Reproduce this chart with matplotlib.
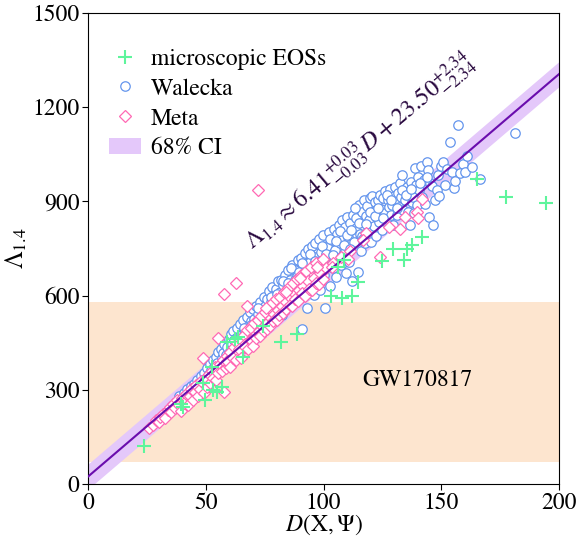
import matplotlib
matplotlib.use("Agg")
import matplotlib.pyplot as plt
import numpy as np
from matplotlib.patches import Patch
from matplotlib.lines import Line2D

plt.rcParams['font.family'] = ['STIXGeneral', 'DejaVu Serif']
plt.rcParams['mathtext.fontset'] = 'stix'

# ---------------- data ----------------
micro_D = [23.8, 39.5, 40.5, 49.7, 48.8, 52.7, 53.0, 54.8, 57.0, 59.0, 62.4, 63.5, 65.8,
           74.5, 82.0, 88.7, 103.2, 108.0, 112.0, 114.8, 106.0, 108.5, 125.0, 129.6,
           134.0, 135.4, 137.6, 141.8, 165.0, 177.5, 194.5]
micro_L = [121, 255, 245, 268, 322, 374, 300, 293, 309, 452, 462, 468, 405,
           502, 452, 478, 598, 592, 598, 642, 692, 712, 710, 750,
           712, 748, 762, 786, 972, 915, 895]

walecka_pts = [
    (37.2, 262), (38.6, 281), (39.4, 266), (40.8, 289), (41.3, 272), (42.1, 301), (42.9, 286), (43.6, 312),
    (44.2, 296), (45.1, 318), (45.7, 303), (46.3, 331), (47.2, 322), (47.8, 344), (48.4, 329), (49.3, 352),
    (49.9, 338),
    (50.6, 368), (51.2, 349), (51.9, 381), (52.4, 362), (53.1, 395), (53.7, 371), (54.3, 404), (54.9, 386),
    (55.4, 420), (55.8, 377), (56.3, 431), (56.9, 402), (57.4, 418), (57.9, 446), (58.6, 411), (59.2, 437),
    (59.7, 461), (60.1, 422),
    (60.7, 478), (61.2, 445), (61.6, 488), (62.3, 430), (62.8, 466), (63.4, 497), (63.9, 452), (64.5, 509),
    (64.8, 474), (65.3, 441), (65.9, 521), (66.4, 489), (66.8, 462), (67.3, 532), (67.9, 503), (68.4, 478),
    (68.9, 548), (69.3, 519), (69.8, 497), (70.2, 556),
    (70.6, 527), (71.1, 489), (71.5, 566), (72.0, 541), (72.6, 508), (73.1, 579), (73.6, 553), (74.2, 522),
    (74.7, 596), (75.1, 568), (75.6, 497), (76.1, 588), (76.5, 547), (77.0, 614), (77.4, 533), (77.9, 579),
    (78.3, 628), (78.8, 603), (79.2, 556), (79.7, 621), (80.0, 586),
    (80.5, 645), (80.9, 571), (81.4, 612), (81.9, 650), (82.3, 537), (82.8, 633), (83.2, 594), (83.7, 667),
    (84.1, 559), (84.6, 619), (85.0, 683), (85.5, 604), (85.9, 651), (86.4, 572), (86.8, 698), (87.3, 629),
    (87.7, 681), (88.2, 611), (88.6, 664), (89.1, 713), (89.6, 588), (90.0, 642),
    (90.4, 721), (90.8, 493), (91.2, 663), (91.6, 598), (92.1, 735), (92.5, 689), (92.9, 561), (93.4, 747),
    (93.8, 672), (94.2, 706), (94.7, 628), (95.1, 758), (95.6, 694), (96.0, 601), (96.4, 769), (96.9, 724),
    (97.3, 652), (97.7, 703), (98.2, 781), (98.6, 618), (99.1, 738), (99.5, 684), (99.9, 792),
    (100.4, 667), (100.8, 561), (101.3, 757), (101.7, 711), (102.2, 803), (102.6, 632), (103.0, 728),
    (103.5, 776), (103.9, 689), (104.4, 812), (104.8, 745), (105.2, 659), (105.7, 796), (106.1, 718),
    (106.5, 826), (107.0, 766), (107.4, 698), (107.8, 842), (108.3, 781), (108.7, 737), (109.2, 817),
    (109.6, 672), (110.0, 851),
    (110.5, 787), (110.9, 706), (111.4, 832), (111.8, 764), (112.2, 646), (112.7, 858), (113.1, 771),
    (113.6, 815), (114.0, 847), (114.6, 675), (114.9, 889), (115.3, 797), (115.8, 742), (116.2, 866),
    (116.7, 826), (117.1, 903), (117.5, 768), (118.0, 853), (118.4, 884), (118.9, 806), (119.3, 842),
    (119.7, 912), (120.2, 771),
    (120.6, 917), (121.0, 866), (121.5, 823), (121.9, 897), (122.4, 789), (122.8, 852), (123.3, 904),
    (123.7, 836), (124.1, 921), (124.6, 877), (125.0, 808), (125.4, 911), (125.9, 864), (126.3, 934),
    (126.8, 843), (127.2, 904), (127.6, 882), (128.1, 941), (128.5, 858), (129.0, 889), (129.4, 826),
    (129.9, 918), (130.3, 946),
    (130.8, 902), (131.2, 856), (131.7, 927), (132.1, 881), (132.6, 958), (133.0, 913), (133.5, 984),
    (133.9, 872), (134.4, 941), (134.8, 903), (135.3, 946), (135.7, 866), (136.2, 931), (136.6, 825),
    (137.1, 962), (137.5, 897), (138.0, 914), (138.4, 863), (138.9, 1006), (139.3, 951), (139.8, 889),
    (140.2, 978), (140.7, 935), (141.4, 1012), (142.0, 914), (142.7, 968), (143.3, 893), (144.0, 1026),
    (144.4, 1000), (144.8, 851), (145.3, 958), (146.0, 949), (146.5, 825), (147.3, 904), (148.0, 936),
    (148.6, 983), (149.2, 917), (150.0, 1012), (150.7, 1025),
    (151.6, 952), (152.5, 1003), (153.7, 1089), (154.6, 994), (155.4, 942), (155.8, 965), (157.0, 1143),
    (158.0, 990), (159.2, 1018), (160.0, 994), (161.0, 1045), (163.0, 1010), (166.5, 971), (181.3, 1118),
    (62.0, 458), (66.1, 498), (69.0, 507), (72.3, 561), (75.3, 540), (77.7, 597), (80.3, 604), (83.0, 648),
    (84.9, 641), (86.1, 689), (87.9, 650), (89.4, 676), (91.0, 705), (92.7, 652), (94.4, 731), (96.2, 710),
    (97.9, 667), (99.3, 759), (101.0, 733), (102.9, 781), (104.1, 728), (105.5, 773), (106.9, 806),
    (108.5, 760), (109.9, 794), (111.6, 808), (113.3, 880), (115.1, 832), (116.5, 790), (118.2, 829),
    (119.9, 866), (121.7, 852), (123.0, 878), (125.2, 846), (127.0, 921), (128.8, 903), (131.0, 879),
    (133.2, 935), (135.0, 921), (137.3, 938), (141.0, 958), (143.8, 979),
    (58.3, 393), (61.4, 412), (64.1, 438), (67.6, 450), (70.9, 468), (73.9, 489), (76.8, 512), (79.5, 531),
    (82.5, 560), (85.3, 577), (88.5, 589), (91.4, 618), (95.3, 646), (98.9, 654), (103.3, 700),
    (107.6, 722), (111.2, 748), (116.9, 781),
]
walecka_D = [p[0] for p in walecka_pts]
walecka_L = [p[1] for p in walecka_pts]

meta_pts = [
    (26.0, 178), (27.8, 188), (28.9, 203), (30.1, 196), (30.6, 214), (31.8, 222), (32.7, 209), (33.9, 236),
    (34.8, 246), (35.4, 228), (36.2, 255), (37.1, 243), (37.8, 266), (38.6, 251), (39.3, 234), (40.1, 274),
    (40.9, 258), (41.7, 288), (42.3, 253), (43.2, 281), (43.8, 301), (44.6, 268), (45.3, 293), (45.9, 316),
    (46.6, 279), (47.4, 304), (48.1, 327), (48.7, 401), (49.2, 289), (49.9, 338), (50.6, 309), (51.3, 349),
    (51.9, 322), (52.6, 361), (53.2, 337), (53.9, 374), (54.5, 331), (55.1, 352), (55.3, 465), (56.0, 381),
    (56.7, 359), (57.3, 396), (57.8, 293), (57.8, 605), (58.4, 368), (59.1, 409), (59.8, 377), (60.4, 421),
    (61.1, 392), (61.8, 437), (62.8, 640), (62.5, 404), (63.2, 448), (63.9, 421), (64.6, 462), (65.4, 433),
    (66.1, 474), (66.8, 446), (67.4, 567), (67.6, 489), (68.3, 452), (69.0, 497), (69.7, 466), (70.4, 512),
    (71.2, 479), (72.0, 936), (72.1, 521), (72.8, 487), (73.6, 536), (74.3, 501), (75.1, 549), (75.9, 514),
    (76.7, 561), (77.5, 528), (78.3, 575), (79.1, 541), (79.9, 588), (80.8, 553), (81.6, 597), (82.5, 566),
    (83.3, 612), (84.2, 579), (85.1, 625), (86.0, 591), (86.9, 641), (87.8, 606), (88.7, 652), (89.6, 619),
    (90.6, 666), (91.5, 631), (92.5, 679), (93.6, 645), (94.7, 691), (95.8, 656), (97.0, 704), (98.3, 671),
    (99.6, 718), (101.0, 689), (104.1, 703), (107.6, 722), (111.3, 741), (118.0, 798), (124.0, 723),
    (128.0, 818), (132.5, 811), (134.6, 850), (139.6, 867), (140.0, 846), (141.8, 908),
    (58.9, 392), (60.2, 372), (61.5, 401), (63.0, 395), (64.2, 430), (65.0, 402), (66.5, 436), (68.0, 430),
    (69.2, 458), (70.1, 441), (71.5, 466), (73.0, 470), (74.8, 487), (76.0, 495), (77.2, 502), (78.7, 519),
    (80.2, 521), (81.3, 538), (82.9, 545), (84.0, 556), (85.6, 571), (86.5, 566), (88.0, 590), (89.2, 583),
    (90.9, 607), (92.2, 598), (93.9, 621), (95.3, 618), (96.6, 640), (98.0, 636), (99.8, 652),
    (103.6, 690), (110.6, 718), (116.8, 778), (75.5, 560), (83.9, 610), (90.2, 655), (97.4, 690),
]
meta_D = [p[0] for p in meta_pts]
meta_L = [p[1] for p in meta_pts]

fit_slope = 6.41
fit_intercept = 23.50
ci_halfwidth = 40.0
gw_low, gw_high = 70, 580

# ---------------- plot ----------------
fig = plt.figure(figsize=(5.79, 5.38), dpi=100)
ax = fig.add_axes([0.152, 0.1004, 0.8135, 0.8754])

ax.axhspan(gw_low, gw_high, color='#fde5cf', zorder=0, lw=0)

Dline = np.linspace(0, 200, 200)
Lline = fit_slope * Dline + fit_intercept
ax.fill_between(Dline, Lline - ci_halfwidth, Lline + ci_halfwidth, color='#e4c8fa', lw=0, zorder=1)

ax.plot(walecka_D, walecka_L, 'o', ls='none', ms=6.8, mfc='white', mec='#6495ED', mew=0.9, zorder=2)
ax.plot(meta_D, meta_L, 'D', ls='none', ms=6.2, mfc='white', mec='#FF69B4', mew=0.9, zorder=3)
ax.plot(Dline, Lline, color='#6a0dad', lw=1.5, zorder=4)
ax.plot(micro_D, micro_L, '+', ls='none', ms=10, mec='#5ef59c', mew=1.5, zorder=5)

ax.text(140, 331, 'GW170817', fontsize=17, ha='center', va='center')
ax.text(70.0, 743, r'$\Lambda_{1.4} \approx 6.41^{+0.03}_{-0.03}\,D + 23.50^{+2.34}_{-2.34}$',
        fontsize=17.5, rotation=40, rotation_mode='anchor', ha='left', va='baseline', color='#2a0a40')

ax.set_xlim(0, 200)
ax.set_ylim(0, 1500)
ax.set_xticks([0, 50, 100, 150, 200])
ax.set_yticks([0, 300, 600, 900, 1200, 1500])
ax.tick_params(labelsize=17, direction='out', length=4, pad=2)
ax.set_xlabel(r'$D(\mathrm{X},\Psi)$', fontsize=17, labelpad=-1)
ax.set_ylabel(r'$\Lambda_{1.4}$', fontsize=18, labelpad=2)

handles = [
    Line2D([], [], marker='+', ls='none', ms=10, mec='#5ef59c', mew=1.5),
    Line2D([], [], marker='o', ls='none', ms=6.8, mfc='white', mec='#6495ED', mew=0.9),
    Line2D([], [], marker='D', ls='none', ms=6.2, mfc='white', mec='#FF69B4', mew=0.9),
    Patch(facecolor='#e4c8fa', edgecolor='none'),
]
labels = ['microscopic EOSs', 'Walecka', 'Meta', '68% CI']
ax.legend(handles, labels, loc='upper left', frameon=False, fontsize=17,
          handlelength=1.35, handletextpad=0.4, labelspacing=0.35,
          bbox_to_anchor=(0.0, 0.97))

fig.savefig('out.png', dpi=100)
